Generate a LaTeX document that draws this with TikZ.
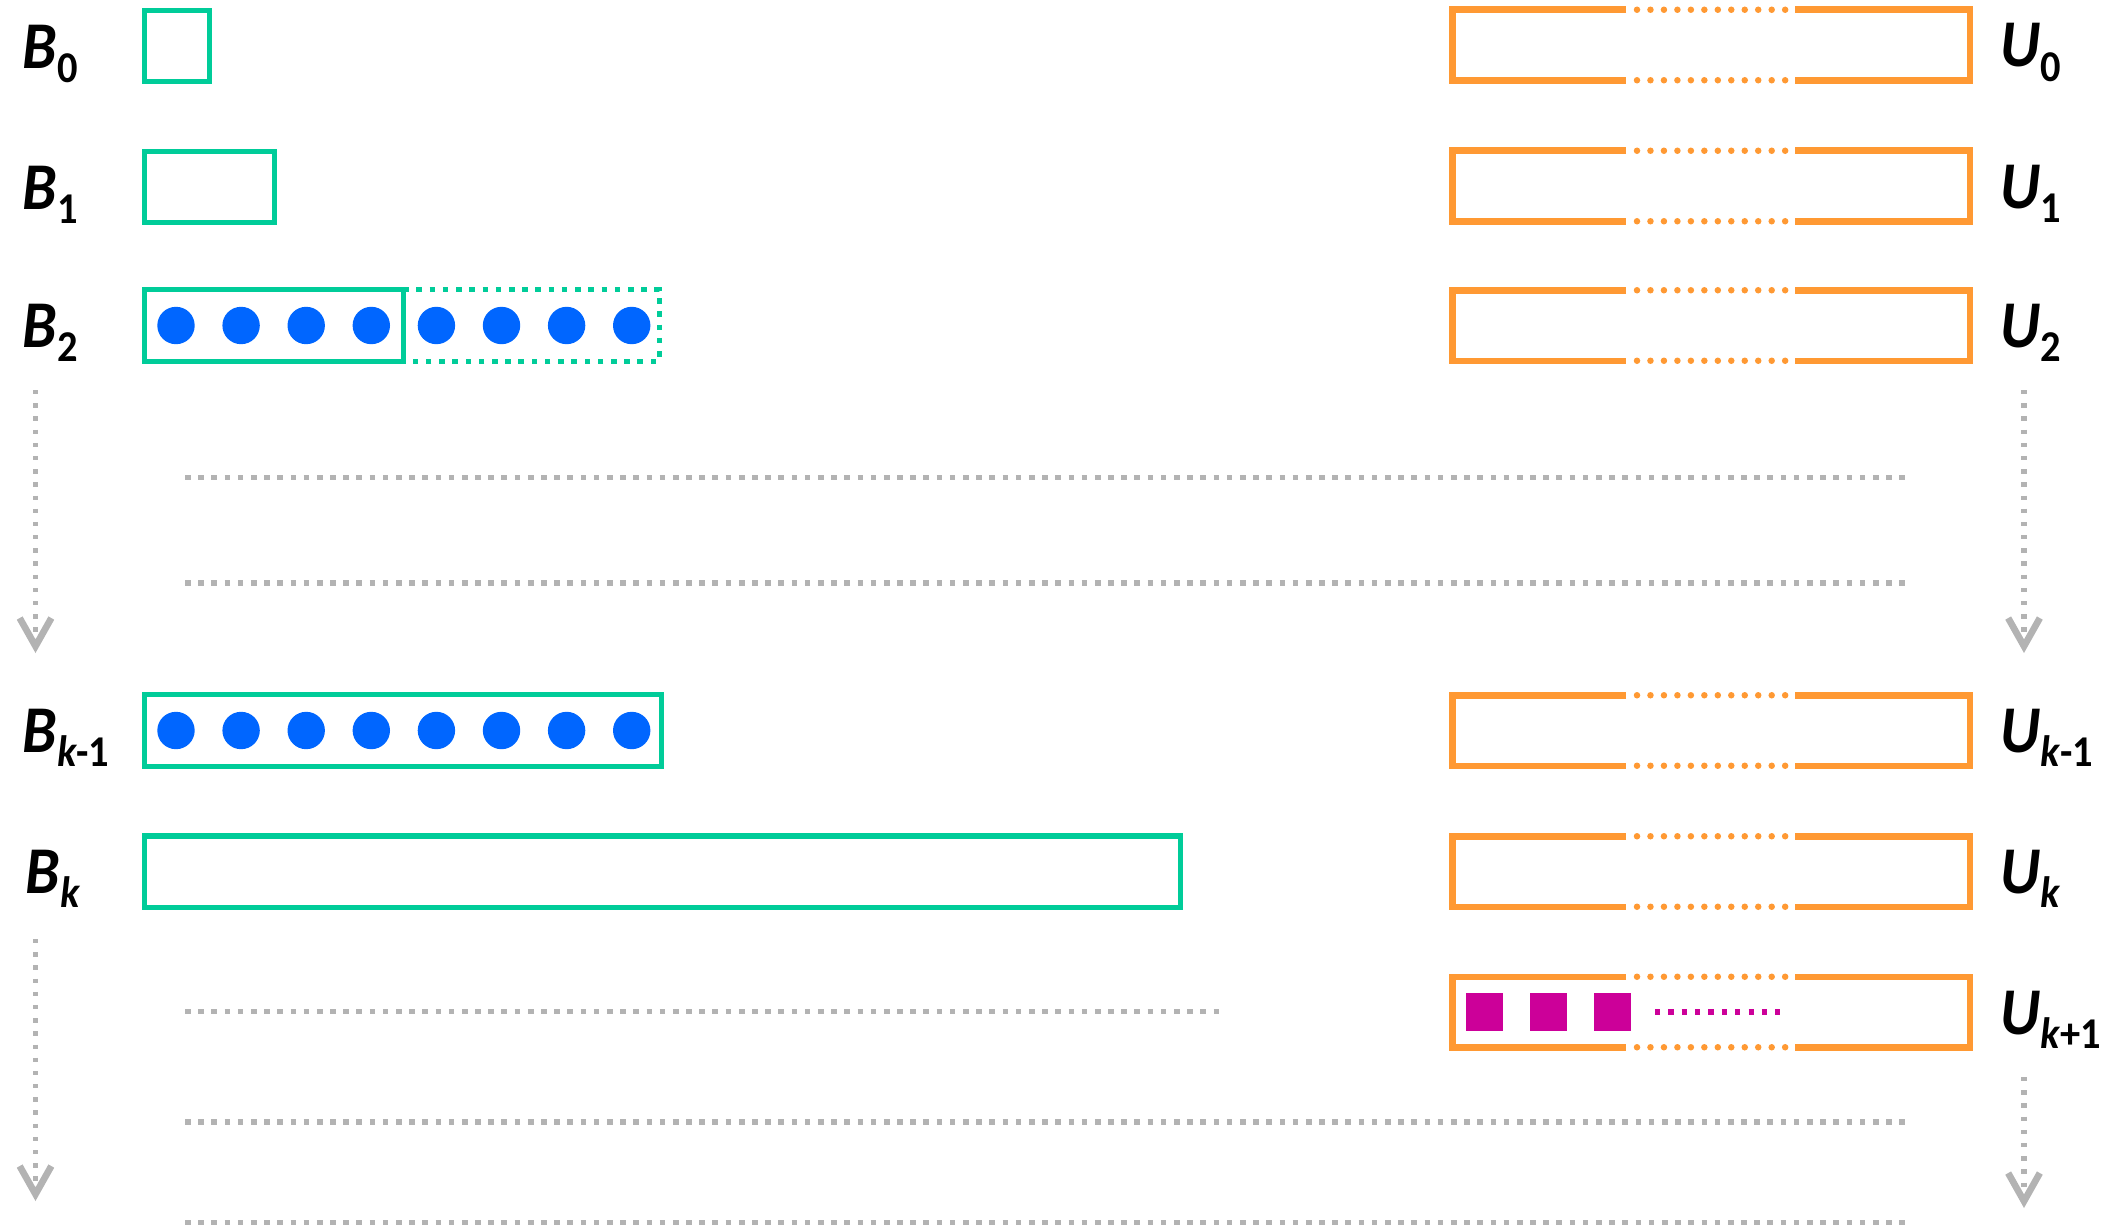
\documentclass[tikz,border=0pt]{standalone}
\usepackage{fontspec}
\setmainfont{Carlito}
\usetikzlibrary{arrows.meta}
\definecolor{bgreen}{RGB}{0,204,153}
\definecolor{uorange}{RGB}{255,153,51}
\definecolor{dblue}{RGB}{0,102,255}
\definecolor{umag}{RGB}{204,0,153}
\definecolor{lgray}{RGB}{179,179,179}
\newcommand{\lbl}[2]{\scalebox{0.92}[1]{{\fontsize{19}{22}\selectfont\bfseries\itshape #1}\raisebox{-0.14cm}{\fontsize{12.5}{14}\selectfont\bfseries #2}}}

\begin{document}
\begin{tikzpicture}[x=0.01cm,y=-0.01cm,
  lab/.style={anchor=base west,inner sep=0pt},
  gbox/.style={draw=bgreen,line width=1.56pt},
  gboxdots/.style={draw=bgreen,line width=1.56pt,dash pattern=on 1.56pt off 2.2pt},
  obox/.style={draw=uorange,line width=1.85pt},
  odots/.style={draw=uorange,line width=1.85pt,line cap=round,dash pattern=on 0pt off 3.83pt},
  gline/.style={draw=lgray,line width=1.45pt,dash pattern=on 1.6pt off 2.15pt},
  garrow/.style={draw=lgray,line width=1.45pt,dash pattern=on 1.25pt off 2.5pt,
    -{Straight Barb[length=8pt,width=9pt,line width=1.9pt]}}]
  \useasboundingbox (0,0) rectangle (2105,1227);

  % B buckets
  \node[lab] (B0) at (22,68) {\lbl{B}{0}};
  \draw[gbox] (144.75,10.25) rectangle (209.25,81.75);
  \node[lab] (B1) at (22,209) {\lbl{B}{1}};
  \draw[gbox] (144.75,151.25) rectangle (274.25,222.75);
  \node[lab] (B2) at (22,347.5) {\lbl{B}{2}};
  \draw[gbox] (144.75,289.75) rectangle (403.25,361.25);
  \draw[gboxdots] (403.25,289.75) -- (659.25,289.75) -- (659.25,361.25) -- (403.25,361.25);
  \foreach \i in {0,...,7}
    \fill[dblue] (176+65.1*\i,325.5) circle (18.7);
  \node[lab] (Bkm) at (22,752.5) {\lbl{B}{{\itshape k}-1}};
  \draw[gbox] (144.75,694.75) rectangle (661.25,766.25);
  \foreach \i in {0,...,7}
    \fill[dblue] (176+65.1*\i,730.5) circle (18.7);
  \node[lab] (Bk) at (25,893.5) {\lbl{B}{{\itshape k}}};
  \draw[gbox] (144.75,835.75) rectangle (1180.25,907.25);

  % U buckets
  \foreach \c/\s/\n in {45/0/0, 186/1/1, 325.5/2/2, 730.5/{{\itshape k}-1}/km,
      871.5/{{\itshape k}}/k, 1012/{{\itshape k}+1}/kp} {
    \draw[obox] (1626,\c-35.25) -- (1452.25,\c-35.25) -- (1452.25,\c+35.25) -- (1626,\c+35.25);
    \draw[obox] (1795,\c-35.25) -- (1969.75,\c-35.25) -- (1969.75,\c+35.25) -- (1795,\c+35.25);
    \draw[odots] (1637,\c-35.25) -- (1786,\c-35.25);
    \draw[odots] (1637,\c+35.25) -- (1786,\c+35.25);
    \node[lab] (U\n) at (2000,\c+22) {\lbl{U}{\s}};
  }
  \foreach \x in {1466,1530,1594}
    \fill[umag] (\x,993) rectangle ++(37,38);
  \draw[umag,line width=1.8pt,dash pattern=on 1.5pt off 2.3pt] (1655,1012) -- (1780,1012);

  % skipped levels
  \draw[gline] (185,477.5) -- (1908,477.5);
  \draw[gline] (185,583) -- (1908,583);
  \draw[gline] (185,1011.5) -- (1220,1011.5);
  \draw[gline] (185,1122) -- (1908,1122);
  \draw[gline] (185,1222.5) -- (1908,1222.5);

  % arrows
  \coordinate (la1) at (35.5,390);  \coordinate (lb1) at (35.5,653);
  \coordinate (la2) at (35.5,939);  \coordinate (lb2) at (35.5,1201);
  \coordinate (ra1) at (2024,390);  \coordinate (rb1) at (2024,653);
  \coordinate (ra2) at (2024,1077); \coordinate (rb2) at (2024,1208);
  \draw[garrow] (la1) -- (lb1);
  \draw[garrow] (la2) -- (lb2);
  \draw[garrow] (ra1) -- (rb1);
  \draw[garrow] (ra2) -- (rb2);
\end{tikzpicture}
\end{document}
